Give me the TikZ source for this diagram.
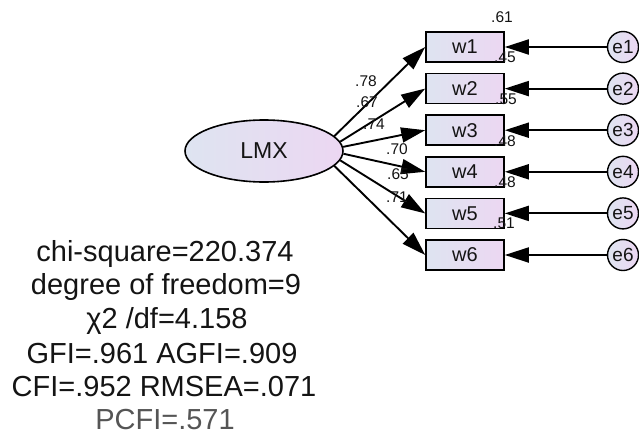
\documentclass[tikz,border=0pt]{standalone}
\usepackage{fontspec}
\setmainfont{Liberation Sans}
\usepackage{tikz}
\usetikzlibrary{arrows.meta, positioning, shapes.geometric}
\definecolor{shadeleft}{RGB}{222,228,241}
\definecolor{shaderight}{RGB}{236,215,242}
\definecolor{inkdark}{RGB}{20,20,20}
\definecolor{inkgray}{RGB}{85,85,85}
\tikzset{
  latentnode/.style={ellipse,draw=black,line width=1.6pt,left color=shadeleft,right color=shaderight,minimum width=158pt,minimum height=62pt,inner sep=0pt,font=\fontsize{23}{25}\selectfont,text=inkdark},
  obsnode/.style={rectangle,draw=black,line width=1.6pt,left color=shadeleft,right color=shaderight,minimum width=78pt,minimum height=30pt,inner sep=0pt,font=\fontsize{20}{22}\selectfont,text=inkdark},
  errnode/.style={circle,draw=black,line width=1.4pt,left color=shadeleft,right color=shaderight,minimum size=31pt,inner sep=0pt,font=\fontsize{19}{21}\selectfont,text=inkdark},
  arr/.style={-{Triangle[length=24pt,width=15pt]},line width=1.9pt,color=black},
  numlabel/.style={inner sep=0pt,font=\fontsize{15.5}{17}\selectfont,text=inkdark},
  fitline/.style={inner sep=0pt,anchor=base,font=\fontsize{29}{33}\selectfont,text=inkdark}
}
\begin{document}
\begin{tikzpicture}[x=1pt,y=-1pt,node distance=10pt and 102pt]
  \useasboundingbox (0,0) rectangle (639,434);

  \node[latentnode] (LMX) at (264,151) {LMX};

  %% indicators
  \node[obsnode] (w1) at (465,47) {w1};
  \node[obsnode,below=of w1] (w2) {w2};
  \node[obsnode,below=of w2] (w3) {w3};
  \node[obsnode,below=of w3] (w4) {w4};
  \node[obsnode,below=of w4] (w5) {w5};
  \node[obsnode,below=of w5] (w6) {w6};

  %% error terms
  \node[errnode,right=of w1] (e1) {e1};
  \node[errnode,right=of w2] (e2) {e2};
  \node[errnode,right=of w3] (e3) {e3};
  \node[errnode,right=of w4] (e4) {e4};
  \node[errnode,right=of w5] (e5) {e5};
  \node[errnode,right=of w6] (e6) {e6};

  %% loadings
  \draw[arr] (LMX.12) -- (w1.west);
  \draw[arr] (LMX.7) -- (w2.west);
  \draw[arr] (LMX.3) -- (w3.west);
  \draw[arr] (LMX.-2) -- (w4.west);
  \draw[arr] (LMX.-7) -- (w5.west);
  \draw[arr] (LMX.-12) -- (w6.west);

  \draw[arr] (e1) -- (w1);
  \draw[arr] (e2) -- (w2);
  \draw[arr] (e3) -- (w3);
  \draw[arr] (e4) -- (w4);
  \draw[arr] (e5) -- (w5);
  \draw[arr] (e6) -- (w6);

  %% estimates
  \node[numlabel] (l1) at (366,81) {.78};
  \node[numlabel] (l2) at (367,102) {.67};
  \node[numlabel] (l3) at (374,124) {.74};
  \node[numlabel] (l4) at (397,149) {.70};
  \node[numlabel] (l5) at (398,174) {.65};
  \node[numlabel] (l6) at (397,197) {.71};

  \node[numlabel] (r0) at (502,17) {.61};
  \node[numlabel] (r1) at (505,57) {.45};
  \node[numlabel] (r2) at (506,99) {.55};
  \node[numlabel] (r3) at (505,141) {.48};
  \node[numlabel] (r4) at (505,182) {.48};
  \node[numlabel] (r5) at (504,223) {.51};

  %% fit indices
  \node[fitline] (fit1) at (165,261) {chi-square=220.374};
  \node[fitline] (fit2) at (166,294) {degree of freedom=9};
  \node[fitline] (fit3) at (167,328) {χ2 /df=4.158};
  \node[fitline] (fit4) at (162,363) {GFI=.961 AGFI=.909};
  \node[fitline] (fit5) at (164,396) {CFI=.952 RMSEA=.071};
  \node[fitline,text=inkgray] (fit6) at (165,429) {PCFI=.571};
\end{tikzpicture}
\end{document}
